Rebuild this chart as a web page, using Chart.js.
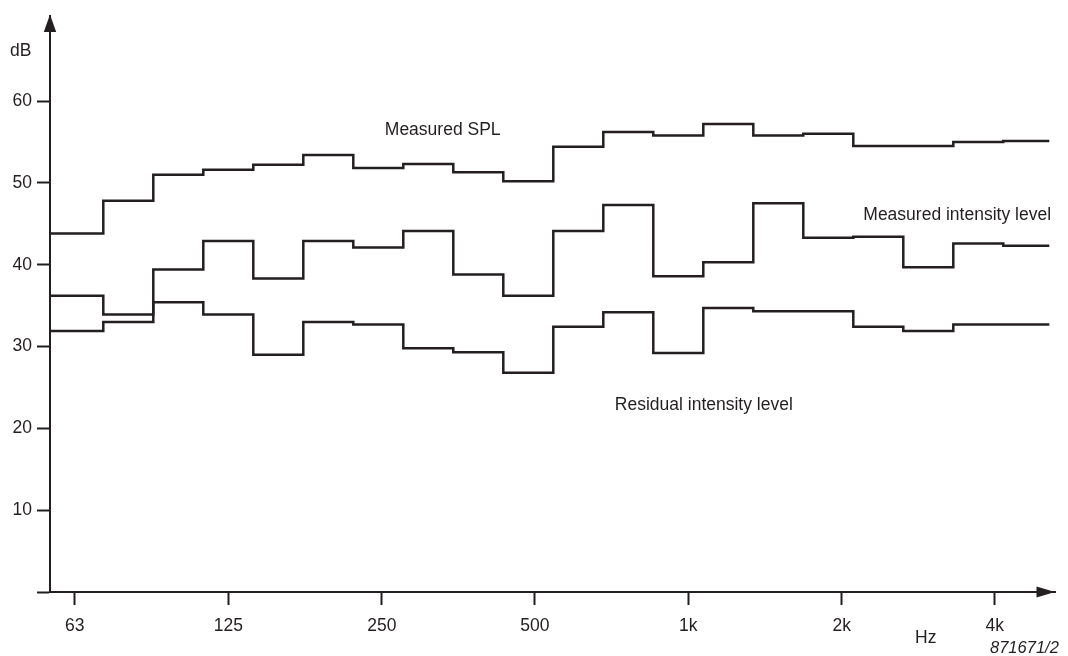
<!DOCTYPE html>
<html>
<head>
<meta charset="utf-8">
<script src="https://cdn.jsdelivr.net/npm/chart.js@4/dist/chart.umd.min.js"></script>
<style>
  html, body { margin: 0; padding: 0; background: #fff; }
  canvas { display: block; }
</style>
</head>
<body>
<canvas id="chart" width="1068" height="656"></canvas>
<script>
// third-octave bands as drawn (one unit = one band), first starts at the axis
const bandEdges = [-0.066, 1, 2, 3, 4, 5, 6, 7, 8, 9, 10, 11, 12, 13, 14, 15, 16, 17, 18, 19, 19.92];

// levels in dB, one per band
const measuredSpl = [43.8, 47.8, 51.0, 51.6, 52.2, 53.4, 51.8, 52.3, 51.3, 50.2, 54.4, 56.2, 55.8, 57.2, 55.8, 56.0, 54.5, 54.5, 55.0, 55.1];
const measuredIntensity = [36.2, 33.9, 39.4, 42.9, 38.3, 42.9, 42.1, 44.1, 38.8, 36.2, 44.1, 47.3, 38.6, 40.3, 47.5, 43.3, 43.4, 39.7, 42.6, 42.3];
const residualIntensity = [31.9, 33.0, 35.4, 33.9, 29.0, 33.0, 32.7, 29.8, 29.3, 26.8, 32.4, 34.2, 29.2, 34.7, 34.3, 34.3, 32.4, 31.9, 32.7, 32.7];

// frequency ticks (position in band units) and their labels
const freqTickPos = [0.43, 3.5, 6.57, 9.63, 12.7, 15.77, 18.83];
const freqTickLabels = ['63', '125', '250', '500', '1k', '2k', '4k'];
const dbTicks = [0, 10, 20, 30, 40, 50, 60];

const INK = '#231f20';
const FONT = '"Liberation Sans", Arial, Helvetica, sans-serif';

function steps(values) {
  const pts = [];
  values.forEach((v, i) => {
    pts.push({ x: bandEdges[i], y: v });
    pts.push({ x: bandEdges[i + 1], y: v });
  });
  return pts;
}

function lineSet(label, values) {
  return {
    label: label,
    data: steps(values),
    borderColor: INK,
    borderWidth: 2.5,
    pointRadius: 0,
    tension: 0,
    borderJoinStyle: 'miter',
    borderCapStyle: 'butt',
    fill: false
  };
}

// arrows on the axes and the free text
const decorations = {
  id: 'decorations',
  afterDraw(chart) {
    const ctx = chart.ctx;
    const x = chart.scales.x, y = chart.scales.y;
    const area = chart.chartArea;
    ctx.save();
    ctx.fillStyle = INK;

    // y arrow
    ctx.beginPath();
    ctx.moveTo(area.left, area.top - 1);
    ctx.lineTo(area.left - 6.2, area.top + 16.5);
    ctx.lineTo(area.left + 6.2, area.top + 16.5);
    ctx.closePath();
    ctx.fill();

    // x arrow
    ctx.beginPath();
    ctx.moveTo(area.right, area.bottom);
    ctx.lineTo(area.right - 18.5, area.bottom - 5.5);
    ctx.lineTo(area.right - 18.5, area.bottom + 5.5);
    ctx.closePath();
    ctx.fill();

    ctx.textAlign = 'left';
    ctx.textBaseline = 'alphabetic';
    ctx.font = '17.5px ' + FONT;
    ctx.fillText('Measured SPL', x.getPixelForValue(6.63), y.getPixelForValue(55.84));
    ctx.fillText('Measured intensity level', x.getPixelForValue(16.2), y.getPixelForValue(45.4));
    ctx.fillText('Residual intensity level', x.getPixelForValue(11.23), y.getPixelForValue(22.3));
    ctx.fillText('dB', 10, 56);
    ctx.fillText('Hz', 915, 643);

    ctx.font = 'italic 16.5px ' + FONT;
    ctx.fillText('871671/2', 990, 653);
    ctx.restore();
  }
};

new Chart(document.getElementById('chart'), {
  type: 'line',
  data: {
    datasets: [
      lineSet('Measured SPL', measuredSpl),
      lineSet('Measured intensity level', measuredIntensity),
      lineSet('Residual intensity level', residualIntensity)
    ]
  },
  options: {
    responsive: false,
    animation: false,
    layout: { padding: { top: 12, right: 13, left: 0, bottom: 0 } },
    plugins: {
      legend: { display: false },
      tooltip: { enabled: false }
    },
    scales: {
      x: {
        type: 'linear',
        min: -0.066,
        max: 20.034,
        afterFit(scale) { scale.height = 64; },
        afterBuildTicks(scale) {
          scale.ticks = freqTickPos.map(v => ({ value: v }));
        },
        ticks: {
          autoSkip: false,
          maxRotation: 0,
          padding: 11,
          color: INK,
          font: { family: FONT, size: 17.5 },
          callback: (val, i) => freqTickLabels[i]
        },
        grid: {
          drawOnChartArea: false,
          drawTicks: true,
          tickLength: 13,
          tickColor: INK,
          tickWidth: 2
        },
        border: { display: true, color: INK, width: 2 }
      },
      y: {
        min: 0,
        max: 70.45,
        afterFit(scale) { scale.width = 50; },
        afterBuildTicks(scale) {
          scale.ticks = dbTicks.map(v => ({ value: v }));
        },
        ticks: {
          padding: 5,
          color: INK,
          font: { family: FONT, size: 17.5 },
          callback: v => (v === 0 ? '' : String(v))
        },
        grid: {
          drawOnChartArea: false,
          drawTicks: true,
          tickLength: 13,
          tickColor: INK,
          tickWidth: 2
        },
        border: { display: true, color: INK, width: 2 }
      }
    }
  },
  plugins: [decorations]
});
</script>
</body>
</html>
